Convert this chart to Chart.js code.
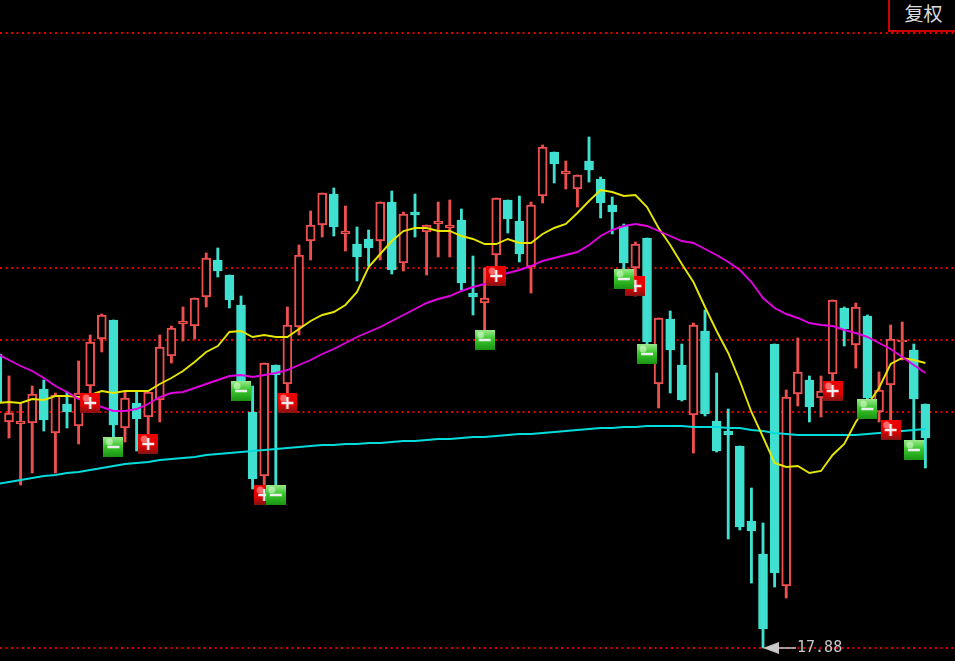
<!DOCTYPE html>
<html>
<head>
<meta charset="utf-8">
<title>K线</title>
<script src="https://cdn.jsdelivr.net/npm/chart.js@4"></script>
<style>
    html, body { margin: 0; padding: 0; background: #000; overflow: hidden; }
    #wrap { position: relative; width: 955px; height: 661px; }
    #kline { display: block; }
    #fq {
        position: absolute; left: 888px; top: 0; width: 67px; height: 30px;
        border-left: 2px solid #d00000; border-bottom: 2px solid #d00000;
        color: #dcdcdc; text-align: center;
        font: 19px/25px "Noto Sans CJK SC", sans-serif; background: #000;
    }
</style>
</head>
<body>
<div id="wrap">
    <canvas id="kline" width="955" height="661"></canvas>
    <div id="fq">复权</div>
</div>
<script>
const opens = [
    23.76, 22.40, 22.36, 22.38, 23.06, 22.18, 22.76, 22.32, 23.12, 24.06,
    24.44, 22.28, 22.78, 22.50, 22.84, 23.72, 24.36, 24.32, 24.90, 25.64,
    25.34, 24.74, 22.60, 21.32, 23.54, 23.16, 24.30, 26.02, 26.34, 26.96,
    26.16, 25.96, 26.06, 26.02, 26.80, 25.58, 26.60, 26.20, 26.36, 26.28,
    26.44, 24.98, 24.78, 25.74, 26.84, 26.42, 25.50, 26.92, 27.80, 27.36,
    27.06, 27.62, 27.26, 26.74, 26.32, 25.48, 26.08, 23.16, 24.46, 23.54,
    22.54, 24.22, 22.42, 22.22, 21.92, 20.42, 19.76, 23.96, 19.12, 22.96,
    23.24, 22.88, 23.36, 24.68, 23.94, 24.52, 22.60, 23.14, 24.00, 23.84, 22.76
];
const closes = [
    22.78, 22.58, 22.42, 22.96, 22.44, 22.94, 22.60, 22.98, 24.00, 24.54,
    22.34, 22.88, 22.46, 23.00, 23.90, 24.28, 24.42, 24.88, 25.68, 25.42,
    24.84, 23.20, 21.26, 23.58, 23.34, 24.34, 25.74, 26.34, 26.98, 26.30,
    26.22, 25.70, 25.88, 26.80, 25.44, 26.56, 26.54, 26.34, 26.42, 26.34,
    25.18, 24.90, 24.88, 26.88, 26.46, 25.76, 26.74, 27.90, 27.56, 27.42,
    27.34, 27.44, 26.78, 26.60, 25.58, 25.96, 24.00, 24.48, 23.84, 22.84,
    24.34, 22.56, 21.82, 22.14, 20.30, 20.22, 18.26, 19.38, 22.90, 23.40,
    22.70, 23.02, 24.84, 24.26, 24.70, 22.88, 23.04, 24.06, 24.04, 22.86, 22.08
];
const highs = [
    23.80, 23.32, 22.78, 23.12, 23.24, 22.98, 23.00, 23.62, 24.14, 24.56,
    24.44, 23.00, 23.00, 23.00, 24.14, 24.32, 24.70, 24.88, 25.78, 25.88,
    25.34, 24.92, 23.12, 23.58, 23.54, 24.70, 25.94, 26.62, 26.98, 27.08,
    26.72, 26.30, 26.24, 26.80, 27.02, 26.60, 26.96, 26.34, 26.80, 26.84,
    26.66, 25.72, 25.48, 26.88, 26.84, 26.92, 26.80, 27.94, 27.80, 27.62,
    27.34, 28.10, 27.30, 26.90, 26.36, 26.00, 26.08, 24.48, 24.62, 23.96,
    24.38, 24.64, 23.38, 22.66, 21.92, 21.08, 20.38, 23.96, 23.04, 24.08,
    23.32, 23.32, 24.84, 24.70, 24.78, 24.54, 23.40, 24.34, 24.40, 23.96, 22.76
];
const lows = [
    22.70, 22.08, 21.14, 21.38, 22.22, 21.38, 22.28, 21.96, 22.90, 23.80,
    22.04, 22.00, 21.82, 22.10, 22.40, 23.58, 24.02, 24.06, 24.70, 25.30,
    24.68, 22.84, 21.06, 21.14, 21.14, 22.98, 24.14, 25.64, 26.10, 26.12,
    25.82, 25.22, 25.52, 25.64, 25.36, 25.42, 26.10, 25.34, 25.70, 25.70,
    25.04, 24.54, 24.24, 25.50, 26.18, 25.60, 24.98, 26.78, 27.18, 27.06,
    26.70, 27.20, 26.48, 26.16, 25.34, 24.92, 23.94, 22.68, 22.98, 22.82,
    21.78, 22.52, 21.80, 20.06, 20.24, 19.18, 17.88, 19.10, 18.88, 22.72,
    22.40, 22.50, 23.18, 23.92, 23.48, 22.68, 22.40, 22.34, 23.64, 21.98, 21.48
];

// moving averages, one value per candle
const maShort = [
    22.78, 22.80, 22.78, 22.86, 22.84, 22.92, 22.92, 22.90, 22.94, 23.02,
    22.98, 23.02, 23.02, 23.02, 23.16, 23.28, 23.42, 23.60, 23.80, 23.92,
    24.20, 24.22, 24.10, 24.14, 24.10, 24.10, 24.26, 24.42, 24.54, 24.60,
    24.74, 25.00, 25.50, 25.76, 26.02, 26.22, 26.28, 26.28, 26.22, 26.22,
    26.12, 26.06, 25.96, 25.96, 26.06, 25.98, 25.98, 26.16, 26.28, 26.36,
    26.58, 26.82, 27.04, 27.00, 26.92, 26.94, 26.70, 26.28, 25.94, 25.56,
    25.20, 24.70, 24.22, 23.78, 23.22, 22.60, 22.10, 21.58, 21.50, 21.52,
    21.38, 21.42, 21.74, 21.96, 22.40, 22.74, 23.08, 23.56, 23.68, 23.64, 23.58
];
const maMid = [
    23.76, 23.64, 23.52, 23.42, 23.28, 23.12, 23.00, 22.86, 22.80, 22.70,
    22.62, 22.62, 22.66, 22.76, 22.90, 22.98, 23.00, 23.08, 23.16, 23.24,
    23.32, 23.34, 23.30, 23.34, 23.38, 23.44, 23.54, 23.64, 23.76, 23.86,
    23.98, 24.10, 24.20, 24.30, 24.42, 24.54, 24.66, 24.78, 24.86, 24.92,
    25.02, 25.10, 25.16, 25.28, 25.38, 25.44, 25.52, 25.62, 25.68, 25.74,
    25.80, 25.94, 26.12, 26.24, 26.32, 26.36, 26.32, 26.22, 26.12, 26.02,
    25.98, 25.86, 25.74, 25.60, 25.44, 25.20, 24.88, 24.68, 24.56, 24.48,
    24.38, 24.34, 24.32, 24.24, 24.18, 24.10, 23.98, 23.86, 23.70, 23.54, 23.38
];
const maLong = [
    21.16, 21.20, 21.24, 21.28, 21.32, 21.34, 21.38, 21.40, 21.44, 21.48,
    21.52, 21.56, 21.58, 21.60, 21.64, 21.66, 21.68, 21.70, 21.74, 21.76,
    21.78, 21.80, 21.82, 21.84, 21.86, 21.88, 21.90, 21.92, 21.94, 21.94,
    21.96, 21.96, 21.98, 21.98, 22.00, 22.02, 22.02, 22.04, 22.06, 22.06,
    22.08, 22.10, 22.10, 22.12, 22.14, 22.16, 22.16, 22.18, 22.20, 22.22,
    22.24, 22.26, 22.28, 22.28, 22.30, 22.30, 22.32, 22.32, 22.32, 22.32,
    22.30, 22.30, 22.30, 22.28, 22.28, 22.24, 22.22, 22.18, 22.16, 22.14,
    22.14, 22.14, 22.14, 22.14, 22.14, 22.16, 22.18, 22.20, 22.22, 22.24, 22.26
];

// buy / sell signals
const plusIndex = [8, 13, 23, 25, 43, 55, 72, 77];
const plusPrices = [22.78, 21.96, 20.94, 22.78, 25.32, 25.12, 23.02, 22.24];
const minusIndex = [10, 21, 24, 42, 54, 56, 75, 79];
const minusPrices = [21.90, 23.02, 20.94, 24.04, 25.26, 23.76, 22.66, 21.84];

const gridPrices = [17.88, 22.60, 24.04, 25.48, 30.18];
const lowIndex = 66;
const lowPrice = 17.88;

const UP_COLOR = '#ee4f4f';
const DOWN_COLOR = '#40e0d0';

function makeSignalIcon(isPlus) {
    const size = 20;
    const c = document.createElement('canvas');
    c.width = size;
    c.height = size;
    const g = c.getContext('2d');
    const grad = g.createLinearGradient(0, 0, 0, size);
    if (isPlus) {
        grad.addColorStop(0, '#f00000');
        grad.addColorStop(0.6, '#e00000');
        grad.addColorStop(1, '#801414');
    } else {
        grad.addColorStop(0, '#9ce88c');
        grad.addColorStop(0.45, '#38c82c');
        grad.addColorStop(1, '#1c9414');
    }
    g.fillStyle = grad;
    g.fillRect(0, 0, size, size);
    // gloss in the upper left corner
    g.fillStyle = isPlus ? 'rgba(255,150,150,0.7)' : 'rgba(225,255,215,0.55)';
    g.beginPath();
    g.arc(6, 5, 3.5, 0, Math.PI * 2);
    g.fill();
    g.fillStyle = '#eeeeee';
    g.fillRect(4, 8.75, 12, 2.5);
    if (isPlus) {
        g.fillRect(8.75, 4, 2.5, 12);
    }
    return c;
}

function points(xs, ys) {
    return xs.map((x, i) => ({ x: x, y: ys[i] }));
}

const indexes = opens.map((_, i) => i);

const lowMarker = {
    id: 'lowMarker',
    afterDatasetsDraw(chart) {
        const x = chart.scales.x.getPixelForValue(lowIndex);
        const y = chart.scales.y.getPixelForValue(lowPrice);
        const ctx = chart.ctx;
        ctx.save();
        ctx.strokeStyle = '#c8c8c8';
        ctx.fillStyle = '#c8c8c8';
        ctx.lineWidth = 1.5;
        ctx.beginPath();
        ctx.moveTo(x, y);
        ctx.lineTo(x + 16, y - 6);
        ctx.lineTo(x + 16, y + 6);
        ctx.closePath();
        ctx.fill();
        ctx.beginPath();
        ctx.moveTo(x + 16, y);
        ctx.lineTo(x + 33, y);
        ctx.stroke();
        ctx.font = '15px "DejaVu Sans Mono", monospace';
        ctx.textBaseline = 'middle';
        ctx.fillText(lowPrice.toFixed(2), x + 34, y);
        ctx.restore();
    }
};

new Chart(document.getElementById('kline').getContext('2d'), {
    type: 'bar',
    data: {
        datasets: [
            {
                type: 'line',
                data: points(minusIndex, minusPrices),
                showLine: false,
                pointStyle: makeSignalIcon(false),
                order: 1
            },
            {
                type: 'line',
                data: points(plusIndex, plusPrices),
                showLine: false,
                pointStyle: makeSignalIcon(true),
                order: 2
            },
            {
                type: 'line',
                data: points(indexes, maMid),
                borderColor: '#e000e0',
                borderWidth: 1.9,
                pointRadius: 0,
                order: 3
            },
            {
                type: 'line',
                data: points(indexes, maShort),
                borderColor: '#e6e600',
                borderWidth: 1.9,
                pointRadius: 0,
                order: 4
            },
            {
                type: 'line',
                data: points(indexes, maLong),
                borderColor: '#00dcdc',
                borderWidth: 1.9,
                pointRadius: 0,
                order: 5
            },
            {
                // candle bodies, up candles are hollow
                data: indexes.map(i => ({ x: i, y: [opens[i], closes[i]] })),
                backgroundColor: indexes.map(i => closes[i] >= opens[i] ? '#000' : DOWN_COLOR),
                borderColor: indexes.map(i => closes[i] >= opens[i] ? UP_COLOR : DOWN_COLOR),
                borderWidth: 2,
                borderSkipped: false,
                barThickness: 9,
                order: 6
            },
            {
                // wicks
                data: indexes.map(i => ({ x: i, y: [lows[i], highs[i]] })),
                backgroundColor: indexes.map(i => closes[i] >= opens[i] ? UP_COLOR : DOWN_COLOR),
                barThickness: 2.2,
                order: 7
            }
        ]
    },
    options: {
        responsive: false,
        animation: false,
        events: [],
        layout: { padding: 0, autoPadding: false },
        elements: { point: { radius: 10, hoverRadius: 10 }, line: { tension: 0 } },
        plugins: {
            legend: { display: false },
            tooltip: { enabled: false }
        },
        scales: {
            x: {
                type: 'linear',
                stacked: true,
                offset: false,
                display: false,
                min: 0.224,
                max: 82.55
            },
            y: {
                stacked: false,
                min: 17.62,
                max: 30.84,
                afterBuildTicks: (axis) => {
                    axis.ticks = gridPrices.map(v => ({ value: v }));
                },
                afterFit: (axis) => {
                    axis.width = 0;
                },
                ticks: { display: false },
                border: { display: false, dash: [2, 3.5] },
                grid: {
                    color: '#e00000',
                    lineWidth: 2,
                    drawTicks: false
                }
            }
        }
    },
    plugins: [lowMarker]
});
</script>
</body>
</html>
